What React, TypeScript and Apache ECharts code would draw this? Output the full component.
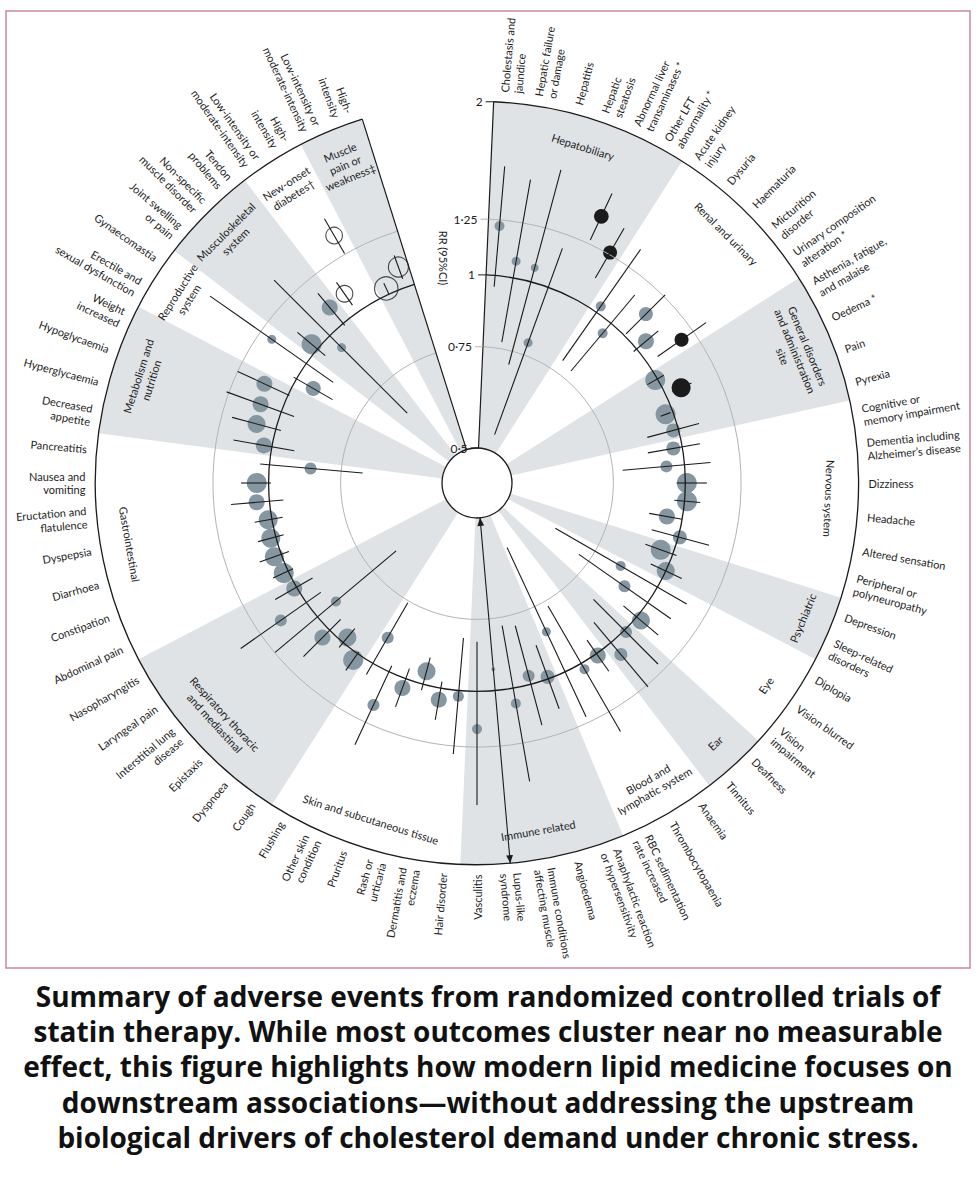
import React, { useEffect, useRef } from "react";
import * as echarts from "echarts";

// ---------------- data ----------------
const itemNames = [
  "Cholestasis and\njaundice", "Hepatic failure\nor damage", "Hepatitis", "Hepatic\nsteatosis",
  "Abnormal liver\ntransaminases *", "Other LFT\nabnormality *",
  "Acute kidney\ninjury", "Dysuria", "Haematuria", "Micturition\ndisorder", "Urinary composition\nalteration *",
  "Asthenia, fatigue,\nand malaise", "Oedema *", "Pain", "Pyrexia",
  "Cognitive or\nmemory impairment", "Dementia including\nAlzheimer’s disease", "Dizziness", "Headache",
  "Altered sensation", "Peripheral or\npolyneuropathy",
  "Depression", "Sleep-related\ndisorders",
  "Diplopia", "Vision blurred", "Vision\nimpairment",
  "Deafness", "Tinnitus",
  "Anaemia", "Thrombocytopaenia", "RBC sedimentation\nrate increased",
  "Anaphylactic reaction\nor hypersensitivity", "Angioedema", "Immune conditions\naffecting muscle",
  "Lupus-like\nsyndrome", "Vasculitis",
  "Hair disorder", "Dermatitis and\neczema", "Rash or\nurticaria", "Pruritus", "Other skin\ncondition", "Flushing",
  "Cough", "Dyspnoea", "Epistaxis", "Interstitial lung\ndisease", "Laryngeal pain", "Nasopharyngitis",
  "Abdominal pain", "Constipation", "Diarrhoea", "Dyspepsia", "Eructation and\nflatulence", "Nausea and\nvomiting",
  "Pancreatitis",
  "Decreased\nappetite", "Hyperglycaemia", "Hypoglycaemia", "Weight\nincreased",
  "Erectile and\nsexual dysfunction", "Gynaecomastia",
  "Joint swelling\nor pain", "Non-specific\nmuscle disorder", "Tendon\nproblems",
  "Low-intensity or\nmoderate-intensity", "High-\nintensity",
  "Low-intensity or\nmoderate-intensity", "High-\nintensity",
];

const rrValues = [
  1.22, 1.07, 1.06, 0.79, 1.41, 1.26, 1.03, 0.95, 1.13, 1.05,
  1.18, 0.99, 1.07, 0.97, 0.98, 0.965, 0.93, 1.006, 1.01, 0.94,
  1.007, 0.95, 1.0, 0.844, 0.893, 1.023, 1.01, 1.064, 1.009, 1.027,
  0.838, 0.992, 0.966, 1.064, 0.918, 1.163, 1.023, 1.048, 0.948, 1.04,
  1.158, 0.888, 1.031, 0.974, 1.042, 0.908, 1.133, 1.011, 1.02, 1.03,
  1.021, 1.015, 1.053, 1.049, 0.848, 1.033, 1.083, 1.092, 1.111, 0.926,
  1.184, 1.031, 0.935, 1.087, 1.095, 1.363, 1.026, 1.09,
];

const ciLow = [
  0.956, 0.77, 0.71, 0.534, 1.27, 1.12, 0.79, 0.78, 1.01, 0.985,
  1.05, 0.955, 1.03, 0.95, 0.88, 0.87, 0.78, 0.966, 0.96, 0.875,
  0.896, 0.89, 0.936, 0.624, 0.715, 0.934, 0.84, 0.9, 0.936, 0.767,
  0.578, 0.867, 0.785, 0.776, 0.3, 0.82, 0.81, 0.974, 0.896, 0.958,
  0.974, 0.756, 0.992, 0.93, 0.94, 0.663, 0.932, 0.929, 0.979, 0.968,
  0.968, 0.957, 0.946, 0.991, 0.688, 0.913, 0.979, 0.947, 0.995, 0.847,
  0.877, 0.96, 0.645, 0.99, 1.036, 1.254, 1.0, 1.037,
];

const ciHigh = [
  1.55, 1.49, 1.59, 1.18, 1.56, 1.41, 1.36, 1.16, 1.26, 1.12,
  1.33, 1.03, 1.12, 0.99, 1.09, 1.075, 1.11, 1.09, 1.065, 1.0,
  1.136, 1.016, 1.073, 1.145, 1.12, 1.12, 1.21, 1.26, 1.09, 1.37,
  1.22, 1.136, 1.185, 1.46, 5, 1.576, 1.29, 1.137, 1.025, 1.127,
  1.38, 1.053, 1.085, 1.025, 1.16, 1.247, 1.378, 1.104, 1.069, 1.096,
  1.076, 1.072, 1.167, 1.117, 1.038, 1.169, 1.198, 1.262, 1.25, 1.014,
  1.6, 1.11, 1.37, 1.17, 1.158, 1.473, 1.05, 1.145,
];

const markerRadius = [
  5, 4.5, 4, 4.5, 7.3, 7, 5, 5, 7, 8,
  7, 10, 9.5, 10, 7, 7, 6, 10, 10, 8,
  7, 10, 9, 5, 6, 9, 6, 6.5, 8, 5,
  4.5, 7, 6, 5, 2, 5, 5.5, 8, 9, 8,
  6, 6, 10, 9, 8, 5, 6, 8, 10, 9.5,
  9.5, 9.5, 8, 10, 6, 8, 9, 8, 8, 7.5,
  4.5, 10, 4.5, 8, 8.3, 8.3, 11.7, 10,
];

// g = grey (non-significant), b = black (significant), o = open circle
const markerKind = [
  "g", "g", "g", "g", "b", "b", "g", "g", "g", "g",
  "b", "g", "b", "g", "g", "g", "g", "g", "g", "g",
  "g", "g", "g", "g", "g", "g", "g", "g", "g", "g",
  "g", "g", "g", "g", "g", "g", "g", "g", "g", "g",
  "g", "g", "g", "g", "g", "g", "g", "g", "g", "g",
  "g", "g", "g", "g", "g", "g", "g", "g", "g", "g",
  "g", "g", "g", "g", "o", "o", "o", "o",
];

const groupNames = [
  "Hepatobiliary", "Renal and urinary", "General disorders\nand administration\nsite", "Nervous system",
  "Psychiatric", "Eye", "Ear", "Blood and\nlymphatic system", "Immune related",
  "Skin and subcutaneous tissue", "Respiratory thoracic\nand mediastinal", "Gastrointestinal",
  "Metabolism and\nnutrition", "Reproductive\nsystem", "Musculoskeletal\nsystem", "New-onset\ndiabetes†",
  "Muscle\npain or\nweakness‡",
];
const groupCounts = [6, 5, 4, 6, 2, 3, 2, 3, 5, 6, 6, 7, 4, 2, 3, 2, 2];
const groupShaded = [true, false, true, false, true, false, true, false, true, false, true, false, true, false, true, false, true];

const tickValues = [0.5, 0.75, 1, 1.25, 2];
const tickLabels = ["0·5", "0·75", "1", "1·25", "2"];

const captionLines = [
  "Summary of adverse events from randomized controlled trials of",
  "statin therapy. While most outcomes cluster near no measurable",
  "effect, this figure highlights how modern lipid medicine focuses on",
  "downstream associations—without addressing the upstream",
  "biological drivers of cholesterol demand under chronic stress.",
];

// ---------------- layout ----------------
const START_ANGLE = 2.5;
const STEP = 5;
const PLOT_END = START_ANGLE + STEP * itemNames.length;
const LABEL_FONT = "Lato, 'Liberation Sans', sans-serif";
const LABEL_SIZE = 11;
const TEXT_COLOR = "#1d1d1d";
const GREY_DOT = "#8797a1";
const SECTOR_FILL = "#dfe3e6";

const itemAngle = (i: number) => START_ANGLE + STEP * (i + 0.5);

function scrAngle(api: any, cs: any, a: number) {
  const p = api.coord([1, a]);
  return Math.atan2(p[1] - cs.cy, p[0] - cs.cx);
}

function buildOption() {
  const groupStarts: number[] = [];
  let acc = 0;
  groupCounts.forEach((c) => {
    groupStarts.push(acc);
    acc += c;
  });
  const sectorData: number[][] = [];
  groupCounts.forEach((c, g) => {
    if (groupShaded[g]) {
      sectorData.push([2, START_ANGLE + STEP * groupStarts[g], START_ANGLE + STEP * (groupStarts[g] + c)]);
    }
  });
  const groupLabelData = groupCounts.map((c, g) => [2, START_ANGLE + STEP * (groupStarts[g] + c / 2), g]);

  const ciData = itemNames.map((_, i) => {
    const lo = Math.max(0.5, ciLow[i]);
    const hi = Math.min(2, ciHigh[i]);
    return [lo, itemAngle(i), hi, ciLow[i] < 0.5 ? 1 : 0, ciHigh[i] > 2 ? 1 : 0];
  });

  const markerData = (kind: string) =>
    itemNames
      .map((_, i) => (markerKind[i] === kind ? [rrValues[i], itemAngle(i), markerRadius[i]] : null))
      .filter((d) => d !== null);

  const labelData = itemNames.map((_, i) => [2, itemAngle(i), i]);

  return {
    animation: false,
    backgroundColor: "#ffffff",
    polar: { center: [477, 483], radius: [35, 381.6] },
    angleAxis: {
      type: "value", min: 0, max: 360, startAngle: 90, clockwise: true,
      show: false,
    },
    radiusAxis: { type: "log", logBase: 2, min: 0.5, max: 2, show: false },
    graphic: [
      {
        type: "rect", z: 0,
        shape: { x: 6, y: 11, width: 964, height: 957 },
        style: { fill: "none", stroke: "#c78a97", lineWidth: 1.5 },
      },
      {
        type: "text", x: 443, y: 258, rotation: -Math.PI / 2,
        style: {
          text: "RR (95%CI)", align: "center", verticalAlign: "middle",
          fontSize: LABEL_SIZE, fontFamily: LABEL_FONT, fill: TEXT_COLOR,
        },
      },
      {
        type: "text", x: 488, y: 978,
        style: {
          text: captionLines.join("\n"), align: "center", verticalAlign: "top",
          fontSize: 28, fontWeight: "bold", fontFamily: "'Open Sans', sans-serif",
          lineHeight: 35.3, fill: "#111111",
        },
      },
    ],
    series: [
      // shaded group sectors
      {
        type: "custom", coordinateSystem: "polar", z: 1, silent: true,
        data: sectorData,
        renderItem: (params: any, api: any) => {
          const cs = params.coordSys;
          const s = scrAngle(api, cs, api.value(1));
          let e = scrAngle(api, cs, api.value(2));
          while (e <= s) e += Math.PI * 2;
          return {
            type: "sector",
            shape: { cx: cs.cx, cy: cs.cy, r0: cs.r0, r: cs.r, startAngle: s, endAngle: e, clockwise: true },
            style: { fill: SECTOR_FILL },
          };
        },
      },
      // markers
      {
        type: "scatter", coordinateSystem: "polar", z: 2, silent: true,
        data: markerData("g"),
        symbolSize: (v: number[]) => v[2] * 2,
        itemStyle: { color: GREY_DOT, opacity: 1 },
      },
      {
        type: "scatter", coordinateSystem: "polar", z: 2, silent: true,
        data: markerData("b"),
        symbolSize: (v: number[]) => v[2] * 2,
        itemStyle: { color: "#1b1b1b", opacity: 1 },
      },
      {
        type: "scatter", coordinateSystem: "polar", z: 2, silent: true,
        data: markerData("o"),
        symbolSize: (v: number[]) => v[2] * 2,
        itemStyle: { color: "rgba(255,255,255,0)", borderColor: "#1b1b1b", borderWidth: 1.1 },
      },
      // grid circles
      {
        type: "custom", coordinateSystem: "polar", z: 3, silent: true,
        data: tickValues.map((v) => [v, 90]),
        renderItem: (params: any, api: any) => {
          const cs = params.coordSys;
          const v = api.value(0);
          const p = api.coord([v, 90]);
          const r = Math.hypot(p[0] - cs.cx, p[1] - cs.cy);
          if (v <= 0.5) {
            return {
              type: "circle", z2: 10,
              shape: { cx: cs.cx, cy: cs.cy, r },
              style: { fill: "#ffffff", stroke: "#1b1b1b", lineWidth: 1.3 },
            };
          }
          const s = scrAngle(api, cs, START_ANGLE);
          let e = scrAngle(api, cs, PLOT_END);
          while (e <= s) e += Math.PI * 2;
          const dark = v === 1 || v === 2;
          return {
            type: "arc",
            shape: { cx: cs.cx, cy: cs.cy, r, startAngle: s, endAngle: e, clockwise: true },
            style: { fill: "none", stroke: dark ? "#1b1b1b" : "#b4b4b4", lineWidth: dark ? 1.3 : 1 },
          };
        },
      },
      // radial edges of the plot
      {
        type: "custom", coordinateSystem: "polar", z: 3, silent: true,
        data: [[2, START_ANGLE], [2, PLOT_END]],
        renderItem: (params: any, api: any) => {
          const a = api.value(1);
          const p1 = api.coord([0.5, a]);
          const p2 = api.coord([2, a]);
          return {
            type: "line",
            shape: { x1: p1[0], y1: p1[1], x2: p2[0], y2: p2[1] },
            style: { stroke: "#1b1b1b", lineWidth: 1.2 },
          };
        },
      },
      // axis ticks and labels
      {
        type: "custom", coordinateSystem: "polar", z: 4, silent: true,
        data: tickValues.map((v, k) => [v, START_ANGLE, k]),
        renderItem: (params: any, api: any) => {
          const v = api.value(0);
          const k = api.value(2);
          const p = api.coord([v, START_ANGLE]);
          const dark = v === 1 || v === 2 || v === 0.5;
          return {
            type: "group",
            children: [
              {
                type: "line",
                shape: { x1: p[0] - 8, y1: p[1], x2: p[0], y2: p[1] },
                style: { stroke: dark ? "#1b1b1b" : "#b4b4b4", lineWidth: 1 },
              },
              {
                type: "text", x: p[0] - 11, y: p[1],
                style: {
                  text: tickLabels[k], align: "right", verticalAlign: "middle",
                  fontSize: 12, fontFamily: LABEL_FONT, fill: TEXT_COLOR,
                },
              },
            ],
          };
        },
      },
      // confidence intervals
      {
        type: "custom", coordinateSystem: "polar", z: 5, silent: true,
        data: ciData,
        renderItem: (params: any, api: any) => {
          const a = api.value(1);
          const p1 = api.coord([api.value(0), a]);
          const p2 = api.coord([api.value(2), a]);
          const len = Math.hypot(p2[0] - p1[0], p2[1] - p1[1]) || 1;
          const ux = (p2[0] - p1[0]) / len;
          const uy = (p2[1] - p1[1]) / len;
          const nx = -uy, ny = ux;
          const children: any[] = [
            {
              type: "line",
              shape: { x1: p1[0], y1: p1[1], x2: p2[0], y2: p2[1] },
              style: { stroke: "#1b1b1b", lineWidth: 1.1 },
            },
          ];
          const AL = 8, AW = 3.4;
          if (api.value(3)) {
            children.push({
              type: "polygon",
              shape: {
                points: [
                  [p1[0], p1[1]],
                  [p1[0] + ux * AL + nx * AW, p1[1] + uy * AL + ny * AW],
                  [p1[0] + ux * AL - nx * AW, p1[1] + uy * AL - ny * AW],
                ],
              },
              style: { fill: "#1b1b1b" },
            });
          }
          if (api.value(4)) {
            children.push({
              type: "polygon",
              shape: {
                points: [
                  [p2[0], p2[1]],
                  [p2[0] - ux * AL + nx * AW, p2[1] - uy * AL + ny * AW],
                  [p2[0] - ux * AL - nx * AW, p2[1] - uy * AL - ny * AW],
                ],
              },
              style: { fill: "#1b1b1b" },
            });
          }
          return { type: "group", children };
        },
      },
      // outcome labels around the circle
      {
        type: "custom", coordinateSystem: "polar", z: 6, silent: true,
        data: labelData,
        renderItem: (params: any, api: any) => {
          const cs = params.coordSys;
          const a = api.value(1);
          const i = api.value(2);
          const p = api.coord([2, a]);
          const dx = p[0] - cs.cx, dy = p[1] - cs.cy;
          const r = Math.hypot(dx, dy);
          const rl = r + 10;
          const x = cs.cx + (dx / r) * rl;
          const y = cs.cy + (dy / r) * rl;
          const right = a < 179;
          const rotDeg = right ? 90 - a : 270 - a;
          return {
            type: "text", x, y, rotation: (rotDeg * Math.PI) / 180,
            style: {
              text: itemNames[i], align: right ? "left" : "right", verticalAlign: "middle",
              fontSize: LABEL_SIZE, lineHeight: 13.5, fontFamily: LABEL_FONT, fill: TEXT_COLOR,
            },
          };
        },
      },
      // group labels
      {
        type: "custom", coordinateSystem: "polar", z: 6, silent: true,
        data: groupLabelData,
        renderItem: (params: any, api: any) => {
          const cs = params.coordSys;
          const a = api.value(1);
          const g = api.value(2);
          const p = api.coord([2, a]);
          const dx = p[0] - cs.cx, dy = p[1] - cs.cy;
          const r = Math.hypot(dx, dy);
          const lines = groupNames[g].split("\n").length;
          const rl = r - 29 - (lines - 1) * 4;
          const x = cs.cx + (dx / r) * rl;
          const y = cs.cy + (dy / r) * rl;
          let rotDeg: number;
          if (a <= 100) rotDeg = -a;
          else if (a < 270) rotDeg = 180 - a;
          else rotDeg = 360 - a;
          return {
            type: "text", x, y, rotation: (rotDeg * Math.PI) / 180,
            style: {
              text: groupNames[g], align: "center", verticalAlign: "middle",
              fontSize: LABEL_SIZE, lineHeight: 13.5, fontFamily: LABEL_FONT, fill: TEXT_COLOR,
            },
          };
        },
      },
    ],
  };
}

export default function App() {
  const ref = useRef<HTMLDivElement>(null);
  useEffect(() => {
    if (!ref.current) return;
    const chart = echarts.init(ref.current, null, { renderer: "svg" });
    chart.setOption(buildOption() as any);
    return () => chart.dispose();
  }, []);
  return (
    <div
      ref={ref}
      style={{ position: "absolute", left: 0, top: 0, width: 980, height: 1196, background: "#ffffff" }}
    />
  );
}
